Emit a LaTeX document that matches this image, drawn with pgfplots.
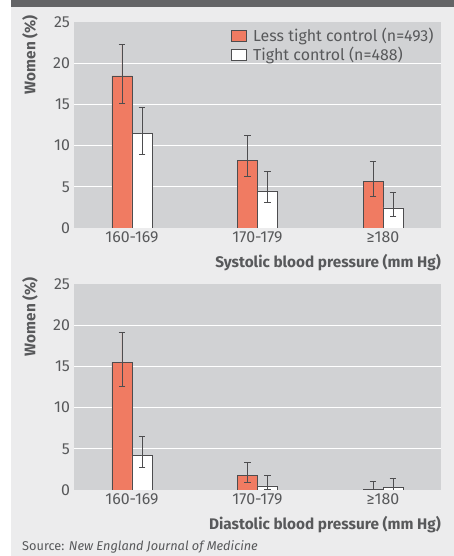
\documentclass[border=0pt]{standalone}
\usepackage{pgfplots}
\pgfplotsset{compat=1.18}
\usepackage{fontspec}
\setmainfont{Fira Sans}
\definecolor{outerbg}{HTML}{ECECED}
\definecolor{plotbg}{HTML}{D1D2D4}
\definecolor{band}{HTML}{636466}
\definecolor{redbar}{HTML}{F07B62}
\definecolor{edge}{HTML}{4D4D4F}
\definecolor{tick}{HTML}{58595B}
\pgfplotsset{
  bpstyle/.style={
    scale only axis, width=367bp, height=206bp,
    ybar=0pt, bar width=20bp,
    xmin=-0.462, xmax=2.462, ymin=0, ymax=25,
    xtick={0,1,2}, xticklabels={160-169,170-179,≥180},
    ytick={0,5,...,25},
    extra y ticks={5,10,15,20}, extra y tick labels={},
    extra tick style={grid=major},
    grid style={white, line width=1.3bp},
    major tick length=0pt,
    axis line style={draw=none},
    axis background/.style={fill=plotbg},
    /pgf/number format/assume math mode=true,
    ticklabel style={font=\fontsize{16}{18}\selectfont, text=tick},
    yticklabel style={xshift=-0.5bp},
    xticklabel style={yshift=0bp},
    every axis plot/.append style={draw=edge, line width=0.8bp},
    error bars/y dir=both, error bars/y explicit,
    error bars/error bar style={draw=edge, line width=0.9bp},
    error bars/error mark options={draw=edge, line width=0.9bp, mark size=3.3bp, rotate=90},
  }
}
\begin{document}
\begin{tikzpicture}[x=1bp,y=1bp]
\fill[white] (0,0) rectangle (454,556);
\fill[outerbg] (11,0) rectangle (454,556);
\fill[band] (11,548.5) rectangle (454,556);
\begin{axis}[bpstyle, at={(74bp,328bp)}, anchor=south west,
  legend style={at={(rel axis cs:0.42,0.99)}, anchor=north west, draw=none, fill=none,
    font=\fontsize{16}{18}\selectfont, text=tick, row sep=0bp,
    /tikz/every odd column/.append style={column sep=4bp}},
  legend cell align=left,
  legend image code/.code={\draw[#1] (0bp,-5.5bp) rectangle (15bp,5.5bp);}]
\addplot[fill=redbar] coordinates {(0,18.45) += (0,3.80) -= (0,3.32) (1,8.25) += (0,2.92) -= (0,1.94) (2,5.70) += (0,2.39) -= (0,1.82)};
\addplot[fill=white] coordinates {(0,11.45) += (0,3.15) -= (0,2.47) (1,4.49) += (0,2.34) -= (0,1.42) (2,2.43) += (0,1.94) -= (0,0.97)};
\legend{Less tight control (n=493), Tight control (n=488)}
\end{axis}
\begin{axis}[bpstyle, at={(74bp,66bp)}, anchor=south west]
\addplot[fill=redbar] coordinates {(0,15.45) += (0,3.65) -= (0,2.91) (1,1.74) += (0,1.58) -= (0,0.77) (2,0.12) += (0,0.93) -= (0,0.12)};
\addplot[fill=white] coordinates {(0,4.17) += (0,2.30) -= (0,1.42) (1,0.49) += (0,1.25) -= (0,0.41) (2,0.28) += (0,1.18) -= (0,0.28)};
\end{axis}
\node[rotate=90, anchor=east, inner sep=0, font=\bfseries\fontsize{15.4}{18}\selectfont, text=tick] at (30,541) {Women (\%)};
\node[rotate=90, anchor=east, inner sep=0, font=\bfseries\fontsize{15.4}{18}\selectfont, text=tick] at (30,279) {Women (\%)};
\node[anchor=base east, inner sep=0, font=\bfseries\fontsize{15.4}{18}\selectfont, text=tick] at (441,288) {Systolic blood pressure (mm Hg)};
\node[anchor=base east, inner sep=0, font=\bfseries\fontsize{15.4}{18}\selectfont, text=tick] at (441,26) {Diastolic blood pressure (mm Hg)};
\node[anchor=base west, inner sep=0, font=\fontsize{12.8}{15}\selectfont, text=tick] at (22,5) {Source: \textit{New England Journal of Medicine}};
\pgfresetboundingbox
\useasboundingbox (0,0) rectangle (454,556);
\end{tikzpicture}
\end{document}
